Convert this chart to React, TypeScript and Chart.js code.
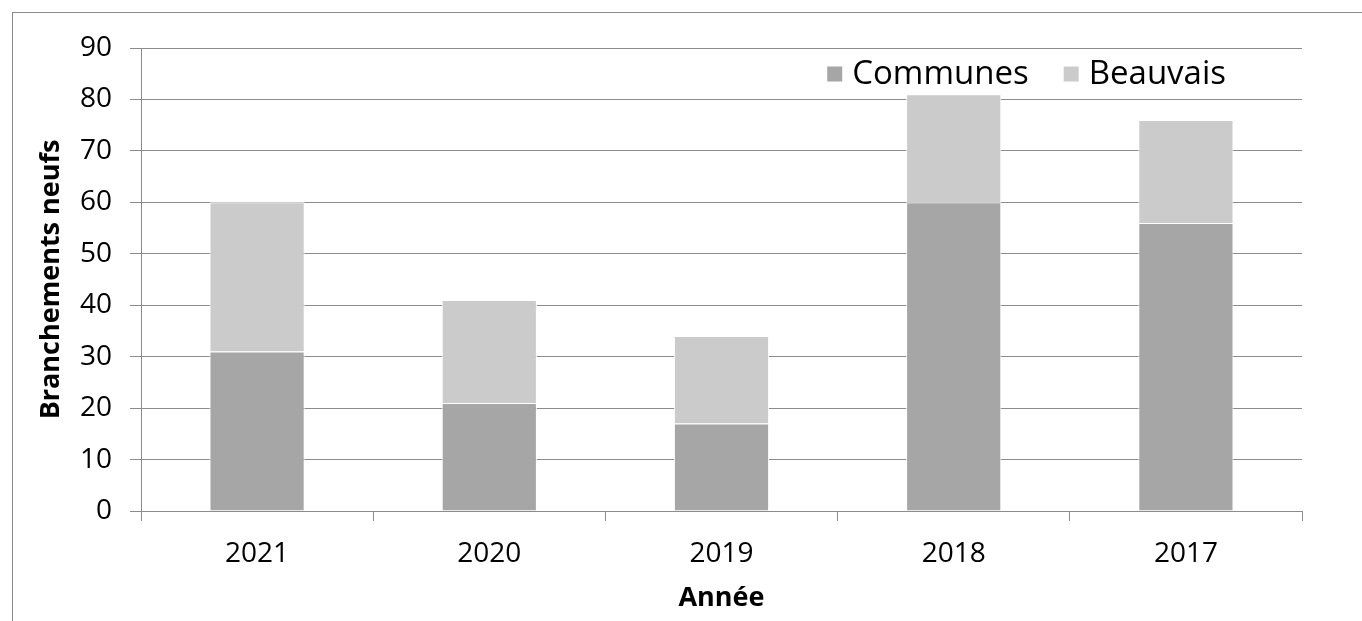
import React, { useEffect, useRef } from "react";
import { Chart, registerables } from "chart.js";

Chart.register(...registerables);

const categories = ["2021", "2020", "2019", "2018", "2017"];
const communes = [31, 21, 17, 60, 56];
const beauvais = [29, 20, 17, 21, 20];
const seriesNames = ["Communes", "Beauvais"];
const seriesColors = ["#a6a6a6", "#cbcbcb"];
const yAxisTitle = "Branchements neufs";
const xAxisTitle = "Année";

const FONT = "'Open Sans', 'Noto Sans', sans-serif";

const insideLegend = {
  id: "insideLegend",
  afterDraw(chart: any) {
    const { ctx, chartArea } = chart;
    ctx.save();
    ctx.font = `33px ${FONT}`;
    ctx.textBaseline = "middle";
    ctx.textAlign = "left";
    const cy = chartArea.top + 26;
    const box = 15;
    const gapBoxText = 10;
    const gapItems = 35;
    const widths = seriesNames.map((n) => ctx.measureText(n).width);
    let total = 0;
    widths.forEach((w, i) => {
      total += box + gapBoxText + w + (i < widths.length - 1 ? gapItems : 0);
    });
    let x = chartArea.right - 76 - total;
    seriesNames.forEach((n, i) => {
      ctx.fillStyle = seriesColors[i];
      ctx.fillRect(x, cy - box / 2, box, box);
      x += box + gapBoxText;
      ctx.fillStyle = "#000";
      ctx.fillText(n, x, cy + 1);
      x += widths[i] + gapItems;
    });
    ctx.restore();
  },
};

export default function App() {
  const ref = useRef<HTMLCanvasElement>(null);
  useEffect(() => {
    if (!ref.current) return;
    const chart = new Chart(ref.current, {
      type: "bar",
      data: {
        labels: categories,
        datasets: [
          {
            label: seriesNames[0],
            data: communes,
            backgroundColor: seriesColors[0],
            borderColor: "#ffffff",
            borderWidth: { top: 1, left: 1, right: 1, bottom: 0 },
            borderSkipped: false as any,
            barPercentage: 0.41,
            categoryPercentage: 1,
          },
          {
            label: seriesNames[1],
            data: beauvais,
            backgroundColor: seriesColors[1],
            borderColor: "#ffffff",
            borderWidth: { top: 1, left: 1, right: 1, bottom: 0 },
            borderSkipped: false as any,
            barPercentage: 0.41,
            categoryPercentage: 1,
          },
        ],
      },
      options: {
        animation: false,
        responsive: false,
        maintainAspectRatio: false,
        layout: { padding: { left: 0, top: 48, right: 60, bottom: 0 } },
        plugins: {
          legend: { display: false },
          tooltip: { enabled: false },
        },
        scales: {
          x: {
            stacked: true,
            afterFit: (s: any) => {
              s.height = 110;
            },
            grid: {
              offset: true,
              drawOnChartArea: false,
              drawTicks: true,
              tickLength: 10,
              color: "#8c8c8c",
            },
            border: { color: "#8c8c8c", width: 1 },
            ticks: {
              color: "#000",
              font: { family: FONT, size: 28 },
              padding: 16,
            },
            title: {
              display: true,
              text: xAxisTitle,
              color: "#000",
              font: { family: FONT, size: 27, weight: "bold" },
              padding: { top: 0, bottom: 6 },
            },
          },
          y: {
            stacked: true,
            min: 0,
            max: 90,
            afterFit: (s: any) => {
              s.width = 141;
            },
            grid: {
              color: "#8c8c8c",
              drawTicks: true,
              tickLength: 11,
            },
            border: { color: "#8c8c8c", width: 1 },
            ticks: {
              stepSize: 10,
              color: "#000",
              font: { family: FONT, size: 28 },
              padding: 18,
            },
            title: {
              display: true,
              text: yAxisTitle,
              color: "#000",
              font: { family: FONT, size: 27, weight: "bold" },
              padding: { top: 35, bottom: 0 },
            },
          },
        },
      },
      plugins: [insideLegend],
    });
    return () => chart.destroy();
  }, []);

  return (
    <div style={{ position: "fixed", left: 0, top: 0, width: 1362, height: 621, background: "#fff" }}>
      <div
        style={{
          position: "absolute",
          left: 12,
          top: 12,
          width: 1400,
          height: 700,
          borderTop: "1px solid #8a8a8a",
          borderLeft: "1px solid #8a8a8a",
        }}
      />
      <canvas
        ref={ref}
        width={1362}
        height={621}
        style={{ position: "absolute", left: 0, top: 0, width: 1362, height: 621 }}
      />
    </div>
  );
}
